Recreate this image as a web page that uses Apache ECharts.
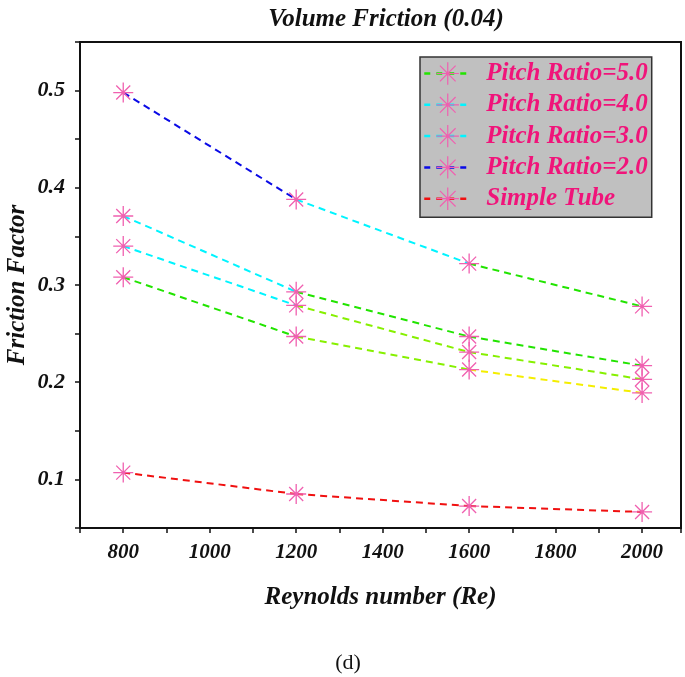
<!DOCTYPE html>
<html><head><meta charset="utf-8">
<script src="https://cdn.jsdelivr.net/npm/echarts@6/dist/echarts.min.js"></script>
<style>html,body{margin:0;padding:0;background:#fff}#c{width:685px;height:677px}</style>
</head><body><div id="c"></div>
<script>
// ---- data ----
const reynolds = [800, 1200, 1600, 2000];
const pitch50 = [0.308, 0.247, 0.213, 0.189];
const pitch40 = [0.340, 0.279, 0.231, 0.203];
const pitch30 = [0.371, 0.293, 0.247, 0.217];
const pitch20 = [0.498, 0.388, 0.322, 0.278];
const simpleTube = [0.107, 0.085, 0.0726, 0.0665];
const seriesNames = ['Pitch Ratio=5.0', 'Pitch Ratio=4.0', 'Pitch Ratio=3.0', 'Pitch Ratio=2.0', 'Simple Tube'];
const xTickLabels = [800, 1000, 1200, 1400, 1600, 1800, 2000];
const yTickLabels = [0.1, 0.2, 0.3, 0.4, 0.5];

// ---- styles ----
const BLUE = '#0a0ae6', CYAN = '#00f4ff', GREEN = '#22e400', LIME = '#86f000', YELLOW = '#f4ee00', RED = '#f01010';
const segmentColors = [
  [GREEN, LIME, YELLOW],
  [CYAN, LIME, LIME],
  [CYAN, GREEN, GREEN],
  [BLUE, CYAN, GREEN],
  [RED, RED, RED]
];
const STAR = '#f060b0';
const starPath = 'path://M0,10L20,10M10,0L10,20M3,3L17,17M17,3L3,17M9,9L11,9L11,11L9,11Z';
const FONT = 'Liberation Serif';
const dash = [7, 5];

const allValues = [pitch50, pitch40, pitch30, pitch20, simpleTube];
const series = [];
const legendData = [];
allValues.forEach((vals, s) => {
  const pts = reynolds.map((x, i) => [x, vals[i]]);
  for (let i = 0; i < pts.length - 1; i++) {
    series.push({
      type: 'line', silent: true, z: 2, symbol: 'none',
      data: [pts[i], pts[i + 1]],
      lineStyle: { color: segmentColors[s][i], width: 2, type: dash }
    });
  }
  series.push({
    type: 'line', name: seriesNames[s], z: 3,
    data: pts,
    symbol: starPath, symbolSize: 20,
    itemStyle: { color: STAR, borderColor: STAR, borderWidth: 1.3 },
    lineStyle: { color: segmentColors[s][0], width: 2, type: dash, opacity: 0 }
  });
  legendData.push({
    name: seriesNames[s],
    lineStyle: { color: segmentColors[s][0], width: 2.5, type: [6, 6], opacity: 1 },
    itemStyle: { color: STAR, borderColor: STAR, borderWidth: 1.2 }
  });
});

const chart = echarts.init(document.getElementById('c'), null, { renderer: 'canvas' });
const near = (v, list) => list.some(t => Math.abs(t - v) < 1e-6);
chart.setOption({
  animation: false,
  backgroundColor: '#fff',
  title: [
    { text: 'Volume Friction (0.04)', left: 381, top: 2, textAlign: 'center',
      textStyle: { fontFamily: FONT, fontStyle: 'italic', fontWeight: 'bold', fontSize: 25, color: '#111' } },
    { text: '(d)', left: 343, top: 647, textAlign: 'center',
      textStyle: { fontFamily: FONT, fontWeight: 'normal', fontSize: 22, color: '#111' } }
  ],
  grid: { left: 80, top: 42, right: 4, bottom: 149, show: true, borderColor: '#111', borderWidth: 2,
    containLabel: false, outerBoundsMode: 'none' },
  legend: {
    data: legendData, orient: 'vertical', left: 420, top: 57, selectedMode: false,
    backgroundColor: '#c0c0c0', borderColor: '#333', borderWidth: 1.5,
    padding: [4, 4, 6, 3], itemWidth: 47, itemHeight: 28, itemGap: 6.3,
    textStyle: { fontFamily: FONT, fontStyle: 'italic', fontWeight: 'bold', fontSize: 25, lineHeight: 25,
      color: '#f0147a', padding: [0, 0, 0, 10] }
  },
  xAxis: {
    type: 'value', min: 700, max: 2090, interval: 100,
    name: 'Reynolds number (Re)', nameLocation: 'middle', nameGap: 57, nameMoveOverlap: false,
    nameTextStyle: { fontFamily: FONT, fontStyle: 'italic', fontWeight: 'bold', fontSize: 25, color: '#111' },
    axisLine: { lineStyle: { color: '#111', width: 2 } },
    axisTick: { inside: false, length: 5, lineStyle: { color: '#111', width: 1.5 } },
    splitLine: { show: false },
    axisLabel: { margin: 14, fontFamily: FONT, fontStyle: 'italic', fontWeight: 'bold', fontSize: 21, color: '#111',
      formatter: v => near(v, xTickLabels) ? String(v) : '' }
  },
  yAxis: {
    type: 'value', min: 0.05, max: 0.55, interval: 0.05,
    name: 'Friction Factor', nameLocation: 'middle', nameGap: 50, nameMoveOverlap: false,
    nameTextStyle: { fontFamily: FONT, fontStyle: 'italic', fontWeight: 'bold', fontSize: 25, color: '#111' },
    axisLine: { show: true, lineStyle: { color: '#111', width: 2 } },
    axisTick: { show: true, inside: false, length: 5, lineStyle: { color: '#111', width: 1.5 } },
    splitLine: { show: false },
    axisLabel: { margin: 15, fontFamily: FONT, fontStyle: 'italic', fontWeight: 'bold', fontSize: 22, color: '#111',
      formatter: v => near(v, yTickLabels) ? (Math.round(v * 10) / 10).toFixed(1) : '' }
  },
  series: series
});
</script></body></html>
